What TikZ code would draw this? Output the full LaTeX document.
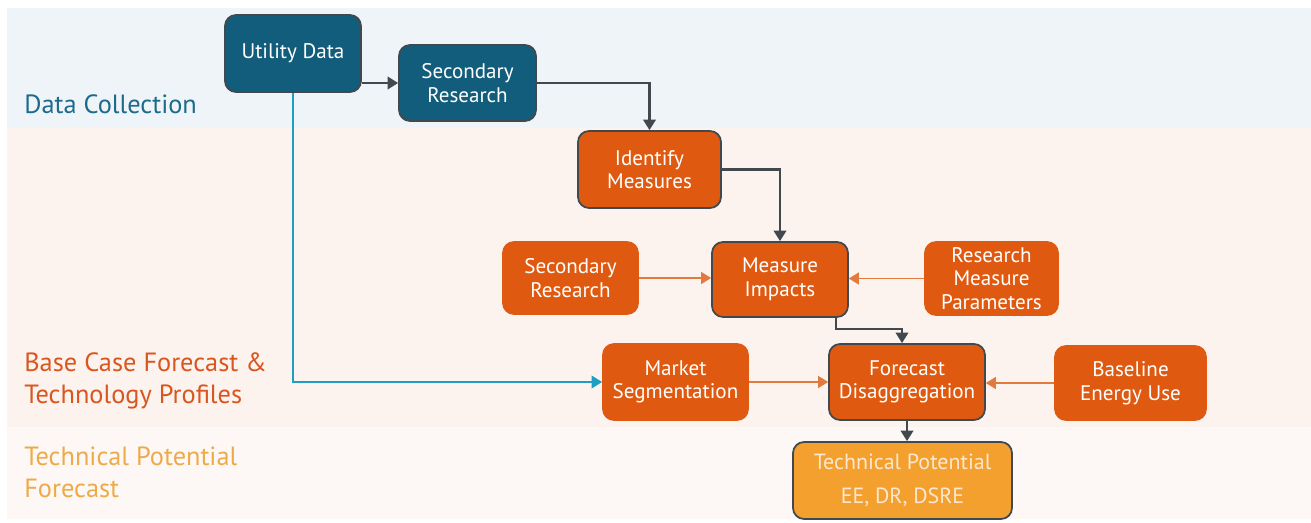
\documentclass[tikz,border=0pt]{standalone}
\usepackage{fontspec}
\setmainfont{PT Sans}
\usepackage{xcolor}
\usepackage{tikz}
\usetikzlibrary{arrows.meta,positioning,calc}
\definecolor{tealbox}{HTML}{125D7B}
\definecolor{orangebox}{HTML}{DF5A10}
\definecolor{amberbox}{HTML}{F4A02E}
\definecolor{amberText}{HTML}{FCE8D0}
\definecolor{edge}{HTML}{41494F}
\definecolor{cyanline}{HTML}{1E9EC3}
\definecolor{orangeline}{HTML}{E27A3E}
\definecolor{bandblue}{HTML}{EEF4F7}
\definecolor{bandpeach}{HTML}{FCF2EE}
\definecolor{bandpale}{HTML}{FDF8F5}
\definecolor{labteal}{HTML}{1C6B8A}
\definecolor{laborange}{HTML}{D9561E}
\definecolor{labamber}{HTML}{EEAA48}
\tikzset{
  >={Triangle[length=2.1mm,width=2.5mm]},
  box/.style={rounded corners=2.2mm,align=center,text=white,line width=1pt,
    font=\fontsize{12}{13.4}\selectfont,inner sep=1pt},
  darkbox/.style={box,fill=tealbox,draw=edge},
  hotbox/.style={box,fill=orangebox,draw=edge},
  inbox/.style={box,fill=orangebox,draw=orangebox},
  outbox/.style={box,fill=amberbox,draw=edge,text=amberText,font=\fontsize{12.5}{14}\selectfont},
  darkflow/.style={->,line width=1.2pt,color=edge},
  inflow/.style={->,line width=.8pt,color=orangeline,
    >={Triangle[length=2mm,width=2.4mm]}},
  dataflow/.style={->,line width=1.1pt,color=cyanline},
  band/.style={font=\fontsize{15}{18.2}\selectfont,anchor=west,align=left,inner xsep=0pt},
}

\begin{document}
\begin{tikzpicture}[x=0.02cm,y=-0.02cm]
  \useasboundingbox (0,0) rectangle (1311,523);
  % bands
  \fill[bandblue] (7,8) rectangle (1311,128);
  \fill[bandpeach] (7,128) rectangle (1311,427);
  \fill[bandpale] (7,427) rectangle (1311,519);
  \node[band,text=labteal] (lab1) at (24,104) {Data Collection};
  \node[band,text=laborange] (lab2) at (24,381) {Base Case Forecast \&\\Technology Profiles};
  \node[band,text=labamber] (lab3) at (24,472) {Technical Potential\\Forecast};
  % boxes
  \node[darkbox,minimum width=2.72cm,minimum height=1.54cm] (utility) at (293,53.5) {Utility Data};
  \node[darkbox,minimum width=2.74cm,minimum height=1.52cm] (secres) at (467.5,83) {Secondary\\Research};
  \node[hotbox,minimum width=2.86cm,minimum height=1.54cm] (identify) at (649.5,169.5) {Identify\\Measures};
  \node[inbox,minimum width=2.7cm,minimum height=1.44cm] (secres2) at (570.5,278) {Secondary\\Research};
  \node[hotbox,minimum width=2.72cm,minimum height=1.5cm] (impacts) at (780,279.5) {Measure\\Impacts};
  \node[inbox,minimum width=2.66cm,minimum height=1.46cm] (params) at (991.5,278.5) {Research\\Measure\\Parameters};
  \node[inbox,minimum width=2.9cm,minimum height=1.52cm] (market) at (675.5,382) {Market\\Segmentation};
  \node[hotbox,minimum width=3.12cm,minimum height=1.52cm] (forecast) at (907,382) {Forecast\\Disaggregation};
  \node[inbox,minimum width=3.02cm,minimum height=1.48cm] (baseline) at (1130.5,383) {Baseline\\Energy Use};
  \node[outbox,minimum width=4.38cm,minimum height=1.54cm] (techpot) at (902.5,480.5) {Technical Potential\\[5pt]EE, DR, DSRE};
  % flows
  \draw[darkflow] (utility.east |- secres.west) -- (secres.west);
  \draw[darkflow] (secres.east) -| (identify.north);
  \draw[darkflow] (identify.east) -| (impacts.north);
  \draw[inflow] (secres2.east) -- (secres2.east -| impacts.west);
  \draw[inflow] (params.west) -- (params.west -| impacts.east);
  \draw[darkflow] ([xshift=-2.6mm]impacts.south east) -- ++(0,-2.2mm) -| ([xshift=-1mm]forecast.north);
  \draw[inflow] (market.east) -- (market.east -| forecast.west);
  \draw[inflow] (baseline.west) -- (baseline.west -| forecast.east);
  \draw[darkflow] (forecast.south) -- (forecast.south |- techpot.north);
  \draw[dataflow] (utility.south) |- (market.west);
\end{tikzpicture}
\end{document}
